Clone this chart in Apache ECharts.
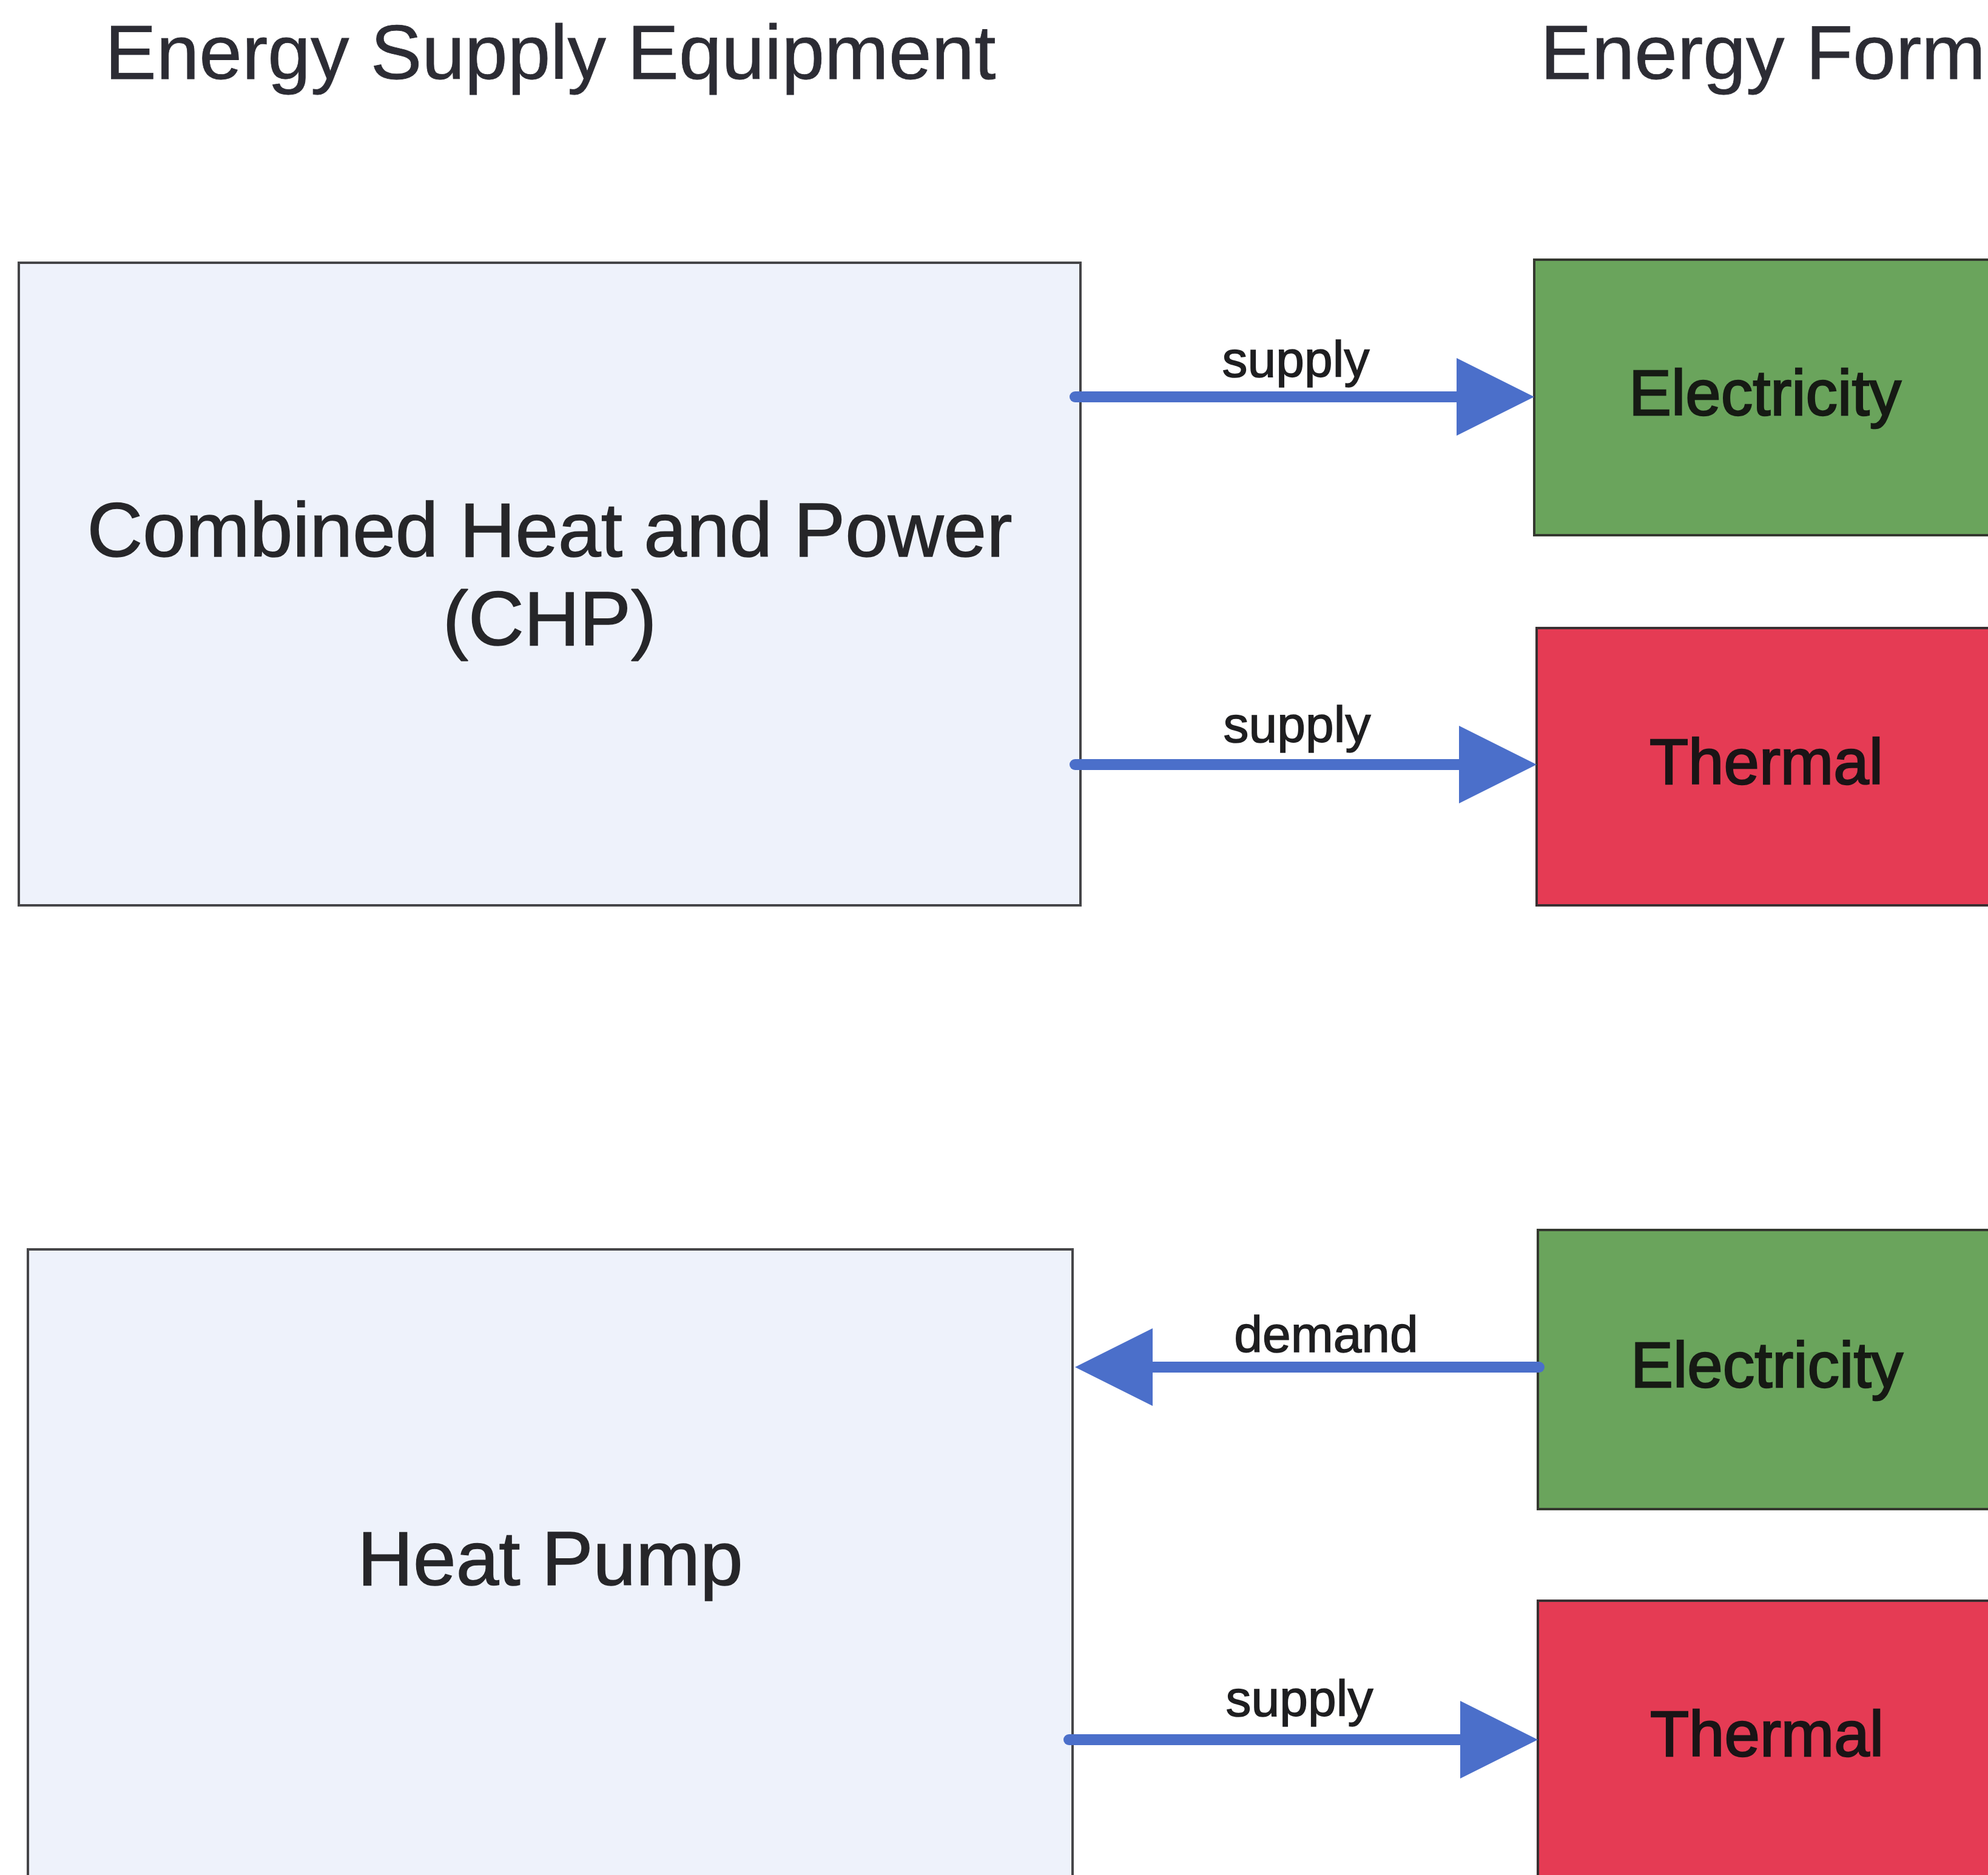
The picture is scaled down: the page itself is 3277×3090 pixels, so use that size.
<!DOCTYPE html>
<html><head><meta charset="utf-8">
<script src="https://cdn.jsdelivr.net/npm/echarts@6/dist/echarts.min.js"></script>
<style>html,body{margin:0;padding:0;background:#fff}#c{width:3277px;height:3090px}</style>
</head><body><div id="c"></div>
<script>
// ---- data ----
const headerLabels = ['Energy Supply Equipment', 'Energy Form'];
const headerX = [173, 2539];
const headerY = [95, 95];

const boxLabels = ['Combined Heat and Power\n(CHP)', 'Electricity', 'Thermal', 'Heat Pump', 'Electricity', 'Thermal'];
const boxKinds = ['equipment', 'electricity', 'thermal', 'equipment', 'electricity', 'thermal'];
const boxX0 = [31, 2529, 2533, 46, 2535, 2535];
const boxX1 = [1781, 3290, 3290, 1768, 3290, 3290];
const boxY0 = [433, 428, 1035, 2059, 2027, 2638];
const boxY1 = [1492, 882, 1492, 3094, 2487, 3092];

const arrowLabels = ['supply', 'supply', 'demand', 'supply'];
const arrowFrom = [1772, 1772, 2537, 1762];
const arrowTo = [2529, 2533, 1772, 2535];
const arrowY = [654, 1260, 2253, 2867];
const arrowLabelX = [2136, 2138, 2186, 2142];
const arrowLabelY = [598, 1200, 2205, 2805];

// ---- styles ----
const FONT = '"Liberation Sans", Arial, Helvetica, sans-serif';
const kindStyle = {
  equipment:   { fill: '#eef2fb', stroke: '#454548', text: '#262629', size: 127, lh: 146, tb: 1.5 },
  electricity: { fill: '#6aa45c', stroke: '#34382f', text: '#161a14', size: 105, lh: 120, tb: 2.5 },
  thermal:     { fill: '#e53b54', stroke: '#3a3032', text: '#1a1416', size: 105, lh: 120, tb: 2.5 }
};
const ARROW_COLOR = '#4b6fca';
const HEAD_LEN = 128, HEAD_HALF = 64, SHAFT = 18;

const headerData = headerLabels.map((t, i) => [headerX[i], headerY[i], i]);
const boxData = boxLabels.map((t, i) => [boxX0[i], boxY0[i], boxX1[i], boxY1[i], i]);
const arrowData = arrowLabels.map((t, i) => [arrowFrom[i], arrowTo[i], arrowY[i], arrowLabelX[i], arrowLabelY[i], i]);

const chart = echarts.init(document.getElementById('c'), null, { renderer: 'canvas' });
chart.setOption({
  backgroundColor: '#ffffff',
  animation: false,
  grid: { left: 0, right: 0, top: 0, bottom: 0 },
  xAxis: { type: 'value', min: 0, max: 3277, show: false },
  yAxis: { type: 'value', min: 0, max: 3090, inverse: true, show: false },
  series: [
    {
      type: 'custom', clip: false, data: boxData,
      renderItem: function (params, api) {
        const i = api.value(4);
        const p0 = api.coord([api.value(0), api.value(1)]);
        const p1 = api.coord([api.value(2), api.value(3)]);
        const s = kindStyle[boxKinds[i]];
        return {
          type: 'group',
          children: [
            { type: 'rect', shape: { x: p0[0], y: p0[1], width: p1[0] - p0[0], height: p1[1] - p0[1] },
              style: { fill: s.fill, stroke: s.stroke, lineWidth: 4 } },
            { type: 'text', x: (p0[0] + p1[0]) / 2, y: (p0[1] + p1[1]) / 2 - (i === 0 ? 8 : 0),
              style: { text: boxLabels[i], fill: s.text, fontSize: s.size, fontFamily: FONT,
                       stroke: s.text, lineWidth: s.tb,
                       lineHeight: s.lh, align: 'center', verticalAlign: 'middle' } }
          ]
        };
      }
    },
    {
      type: 'custom', clip: false, data: arrowData,
      renderItem: function (params, api) {
        const i = api.value(5);
        const a = api.coord([api.value(0), api.value(2)]);
        const b = api.coord([api.value(1), api.value(2)]);
        const dir = b[0] > a[0] ? 1 : -1;
        const base = b[0] - dir * HEAD_LEN;
        const lp = api.coord([api.value(3), api.value(4)]);
        return {
          type: 'group',
          children: [
            { type: 'line', shape: { x1: a[0], y1: a[1], x2: base + dir * 2, y2: a[1] },
              style: { stroke: ARROW_COLOR, lineWidth: SHAFT, lineCap: 'round' } },
            { type: 'polygon', shape: { points: [[b[0], b[1]], [base, b[1] - HEAD_HALF], [base, b[1] + HEAD_HALF]] },
              style: { fill: ARROW_COLOR } },
            { type: 'text', x: lp[0], y: lp[1],
              style: { text: arrowLabels[i], fill: '#1e1e20', fontSize: 84, fontFamily: FONT,
                       stroke: '#1e1e20', lineWidth: 1.5,
                       align: 'center', verticalAlign: 'middle' } }
          ]
        };
      }
    },
    {
      type: 'custom', clip: false, data: headerData,
      renderItem: function (params, api) {
        const i = api.value(2);
        const p = api.coord([api.value(0), api.value(1)]);
        return { type: 'text', x: p[0], y: p[1],
          style: { text: headerLabels[i], fill: '#2c2c34', fontSize: 127, fontFamily: FONT,
                   stroke: '#2c2c34', lineWidth: 0.8,
                   align: 'left', verticalAlign: 'middle' } };
      }
    }
  ]
});
</script>
</body></html>
